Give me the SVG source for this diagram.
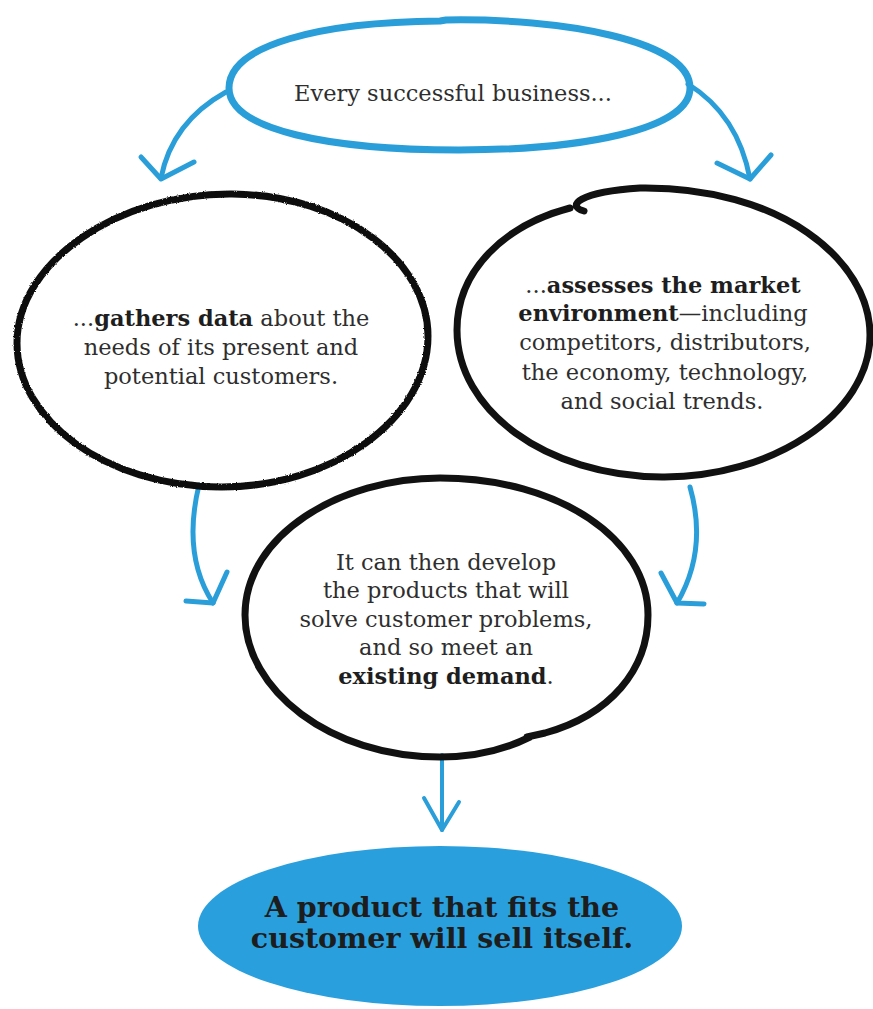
<svg xmlns="http://www.w3.org/2000/svg" width="873" height="1009" viewBox="0 0 873 1009">
<defs>
<style>
.body{font-family:"DejaVu Serif","Liberation Serif",serif;font-size:22.5px;fill:#2e2e2e;text-anchor:middle}
.b{font-weight:bold;fill:#1e1e1e}
.blue{fill:none;stroke:#2a9ed9;stroke-linecap:round;stroke-linejoin:round}
.ink{fill:none;stroke:#111;stroke-width:7;stroke-linecap:round;stroke-linejoin:round}
.final{font-family:"DejaVu Serif","Liberation Serif",serif;font-size:28.5px;font-weight:bold;fill:#1d1d1d;text-anchor:middle}
</style>
<filter id="rough" x="-5%" y="-5%" width="110%" height="110%">
<feTurbulence type="fractalNoise" baseFrequency="0.9" numOctaves="2" seed="3" result="n"/>
<feDisplacementMap in="SourceGraphic" in2="n" scale="2.5" xChannelSelector="R" yChannelSelector="G"/>
</filter>
</defs>
<rect width="873" height="1009" fill="#ffffff"/>

<g id="connectors">
<path class="blue" stroke-width="5" d="M 226 92 Q 172 122 161 178"/>
<path class="blue" stroke-width="5" d="M 141 157 L 161 179 L 194 162"/>
<path class="blue" stroke-width="5" d="M 688 84 Q 738 115 750 179"/>
<path class="blue" stroke-width="5" d="M 717 163 L 750 179 L 771 155"/>
<path class="blue" stroke-width="5" d="M 199 485 Q 182 555 213 603"/>
<path class="blue" stroke-width="5" d="M 186 601 L 213 603 L 227 572"/>
<path class="blue" stroke-width="5" d="M 690 487 Q 708 550 677 603"/>
<path class="blue" stroke-width="5" d="M 661 573 L 677 603 L 704 604"/>
<path class="blue" stroke-width="4" d="M 442 755 L 442 830"/>
<path class="blue" stroke-width="4" d="M 424 798 L 442 830 L 459 802"/>
</g>

<g id="node-top">
<path class="blue" stroke-width="7" d="M 446 20 C 560 18 690 40 690 88 C 690 130 580 150 459 150 C 330 150 229 130 229 88 C 229 45 320 22 440 21 L 446 20"/>
<text class="body" x="453" y="101">Every successful business...</text>
</g>

<g id="node-left">
<path class="ink" filter="url(#rough)" d="M 232 194 C 345 195 428 262 428 336 C 428 420 330 488 220 487 C 105 486 17 420 17 343 C 17 262 118 193 232 194 Z"/>
<text class="body" x="221" y="326">...<tspan class="b">gathers data</tspan> about the</text>
<text class="body" x="221" y="355">needs of its present and</text>
<text class="body" x="221" y="384">potential customers.</text>
</g>

<g id="node-right">
<path class="ink" d="M 584 211 C 566 206 578 192 640 188 C 780 186 870 260 870 335 C 870 415 770 478 662 477 C 545 476 457 410 457 330 C 457 270 505 225 570 208"/>
<text class="body" x="663" y="293">...<tspan class="b">assesses the market</tspan></text>
<text class="body" x="663" y="321"><tspan class="b">environment</tspan>—including</text>
<text class="body" x="665" y="350">competitors, distributors,</text>
<text class="body" x="665" y="380">the economy, technology,</text>
<text class="body" x="662" y="409">and social trends.</text>
</g>

<g id="node-middle">
<path class="ink" d="M 530 737 C 500 752 470 757 440 757 C 330 757 245 690 245 615 C 245 535 340 478 440 478 C 560 478 648 540 648 615 C 648 670 610 715 545 733 L 527 737"/>
<text class="body" x="446" y="570">It can then develop</text>
<text class="body" x="446" y="598">the products that will</text>
<text class="body" x="446" y="627">solve customer problems,</text>
<text class="body" x="446" y="655">and so meet an</text>
<text class="body" x="446" y="684"><tspan class="b">existing demand</tspan>.</text>
</g>

<g id="node-final">
<ellipse cx="440" cy="926" rx="242" ry="80" fill="#29a0dd"/>
<text class="final" x="442" y="917">A product that fits the</text>
<text class="final" x="442" y="948">customer will sell itself.</text>
</g>
</svg>
